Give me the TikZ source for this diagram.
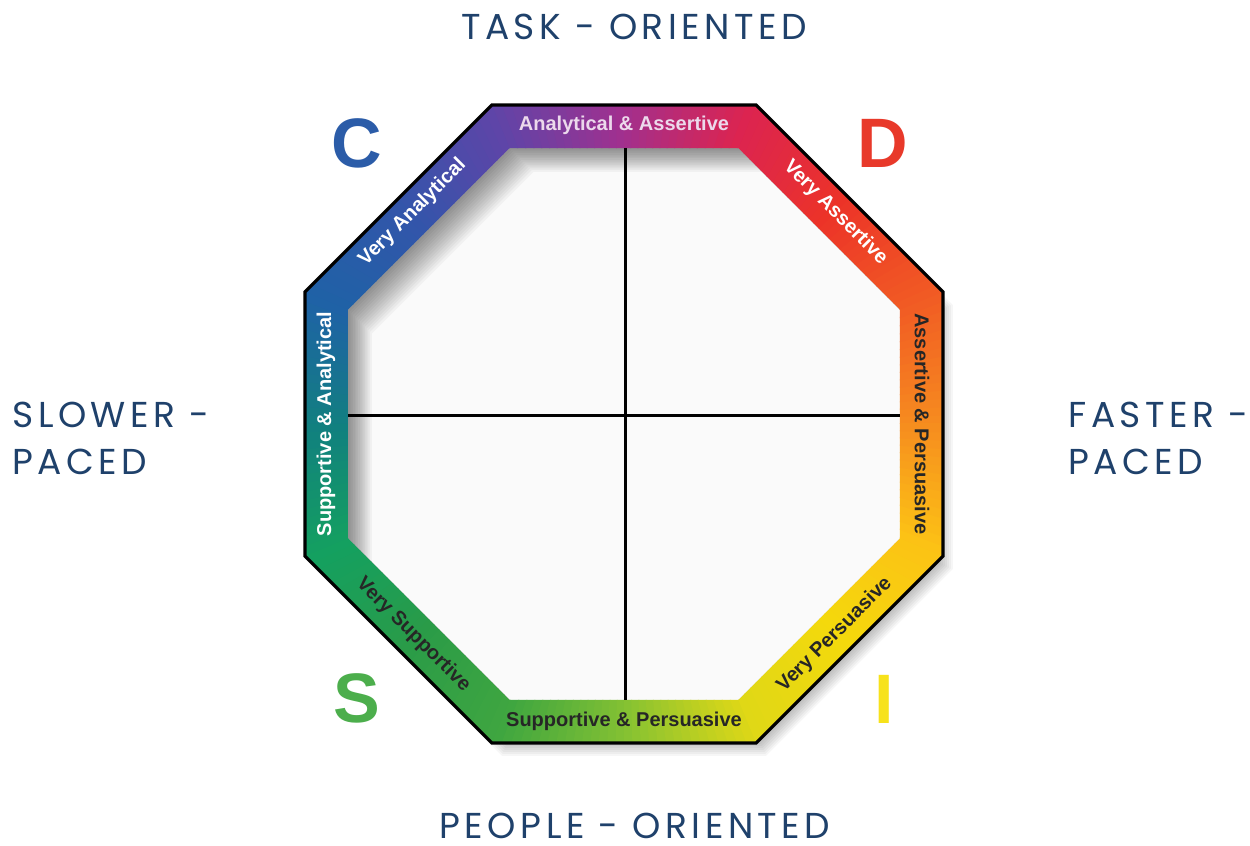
\documentclass[tikz,border=0pt]{standalone}
\usepackage{fontspec}
\setmainfont{Liberation Sans}
\newfontfamily\axisfont[LetterSpace=12.5]{Poppins}

\definecolor{axisblue}{HTML}{1F416B}
\definecolor{discC}{HTML}{2B5CA8}
\definecolor{discD}{HTML}{E8392A}
\definecolor{discS}{HTML}{4CAE4C}
\definecolor{discI}{HTML}{F7E21B}
% colour stops round the ring, every 22.5 degrees from the right
\definecolor{ring0}{HTML}{F68A1F}
\definecolor{ring1}{HTML}{F15A24}
\definecolor{ring2}{HTML}{EC3328}
\definecolor{ring3}{HTML}{DC2450}
\definecolor{ring4}{HTML}{A0308F}
\definecolor{ring5}{HTML}{5E45A8}
\definecolor{ring6}{HTML}{3355AA}
\definecolor{ring7}{HTML}{1F62A6}
\definecolor{ring8}{HTML}{11807F}
\definecolor{ring9}{HTML}{14A060}
\definecolor{ring10}{HTML}{2A9B48}
\definecolor{ring11}{HTML}{3FA640}
\definecolor{ring12}{HTML}{86C232}
\definecolor{ring13}{HTML}{E0D816}
\definecolor{ring14}{HTML}{F4D90C}
\definecolor{ring15}{HTML}{FCC215}

% octagon with flat sides, argument = distance from centre to a side
\newcommand{\octagon}[1]{(22.5:{#1/cos(22.5)}) -- (67.5:{#1/cos(22.5)}) -- (112.5:{#1/cos(22.5)}) -- (157.5:{#1/cos(22.5)}) -- (202.5:{#1/cos(22.5)}) -- (247.5:{#1/cos(22.5)}) -- (292.5:{#1/cos(22.5)}) -- (337.5:{#1/cos(22.5)}) -- cycle}

\tikzset{
    bandlabel/.style={font=\bfseries\fontsize{10}{10}\selectfont, inner sep=0pt},
    discletter/.style={font=\bfseries\fontsize{35}{35}\selectfont, inner sep=0pt},
    axislabel/.style={font=\axisfont\fontsize{18}{19}\selectfont, text=axisblue, inner sep=0pt},
    crossline/.style={line width=1.5pt, black}
}

\begin{document}
\begin{tikzpicture}[x=0.5pt, y=0.5pt]
            \useasboundingbox (-624, -422) rectangle (626, 424);
            \fill[white] (-624, -422) rectangle (626, 424);

            % drop shadow
            \foreach \sBlur in {0, ..., 13}
                \fill[black, opacity=0.035, shift={(10, -13)}] \octagon{317+\sBlur*2};

            \fill[gray!4] \octagon{276};
            \begin{scope}
                \clip \octagon{276};
                \foreach \sBlur in {1, ..., 14}
                    \fill[black, opacity=0.035, even odd rule, shift={(1.7*\sBlur, -1.7*\sBlur)}] (-800, -800) rectangle (800, 800) \octagon{276};
            \end{scope}

            % coloured ring
            \begin{scope}[even odd rule]
                \clip \octagon{319} \octagon{276};
                \foreach \aStart/\cStart/\cEnd in {0/ring0/ring1, 22.5/ring1/ring2, 45/ring2/ring3, 67.5/ring3/ring4,
                        90/ring4/ring5, 112.5/ring5/ring6, 135/ring6/ring7, 157.5/ring7/ring8,
                        180/ring8/ring9, 202.5/ring9/ring10, 225/ring10/ring11, 247.5/ring11/ring12,
                        270/ring12/ring13, 292.5/ring13/ring14, 315/ring14/ring15, 337.5/ring15/ring0} {
                    \foreach \t in {0, ..., 14} {
                        \pgfmathsetmacro\wAngle{\aStart+\t*1.5}
                        \pgfmathsetmacro\wMix{100-\t/15*100}
                        \fill[\cStart!\wMix!\cEnd] (0, 0) -- (\wAngle:400) -- ({\wAngle+1.7}:400) -- cycle;
                    }
                }
            \end{scope}
            \draw[line width=1.6pt, line join=miter] \octagon{319};

            % quadrants
            \coordinate (crossN) at (2, 276);
            \coordinate (crossS) at (2, -276);
            \coordinate (crossW) at (-276, 8);
            \coordinate (crossE) at (276, 8);
            \draw[crossline] (crossN) -- (crossS);
            \draw[crossline] (crossW) -- (crossE);

            % labels on the ring
            \node[bandlabel, text=white!85!violet] (anaAss) at (90:299) {Analytical \& Assertive};
            \node[bandlabel, text=white, rotate=-45] (veryAss) at (45:299) {Very Assertive};
            \node[bandlabel, text=black!85, rotate=-90] (assPer) at (0:298) {Assertive \& Persuasive};
            \node[bandlabel, text=black!85, rotate=45] (veryPer) at (315:298) {Very Persuasive};
            \node[bandlabel, text=black!85] (supPer) at (270:297) {Supportive \& Persuasive};
            \node[bandlabel, text=black!85, rotate=-45] (verySup) at (225:298) {Very Supportive};
            \node[bandlabel, text=white, rotate=90] (supAna) at (180:298) {Supportive \& Analytical};
            \node[bandlabel, text=white, rotate=45] (veryAna) at (135:299) {Very Analytical};

            % DISC letters
            \node[discletter, text=discC] (letC) at (-267, 281) {C};
            \node[discletter, text=discD] (letD) at (259, 281) {D};
            \node[discletter, text=discS] (letS) at (-267, -274) {S};
            \node[discletter, text=discI] (letI) at (260, -275) {I};

            % axes
            \node[axislabel] (task) at (10, 397) {TASK - ORIENTED};
            \node[axislabel] (people) at (11, -402) {PEOPLE - ORIENTED};
            \node[axislabel, anchor=west] (slowA) at (-612, 9) {SLOWER -};
            \node[axislabel, anchor=west] (slowB) at (-612, -38) {PACED};
            \node[axislabel, anchor=west] (fastA) at (444, 9) {FASTER -};
            \node[axislabel, anchor=west] (fastB) at (444, -38) {PACED};
        \end{tikzpicture}
\end{document}
